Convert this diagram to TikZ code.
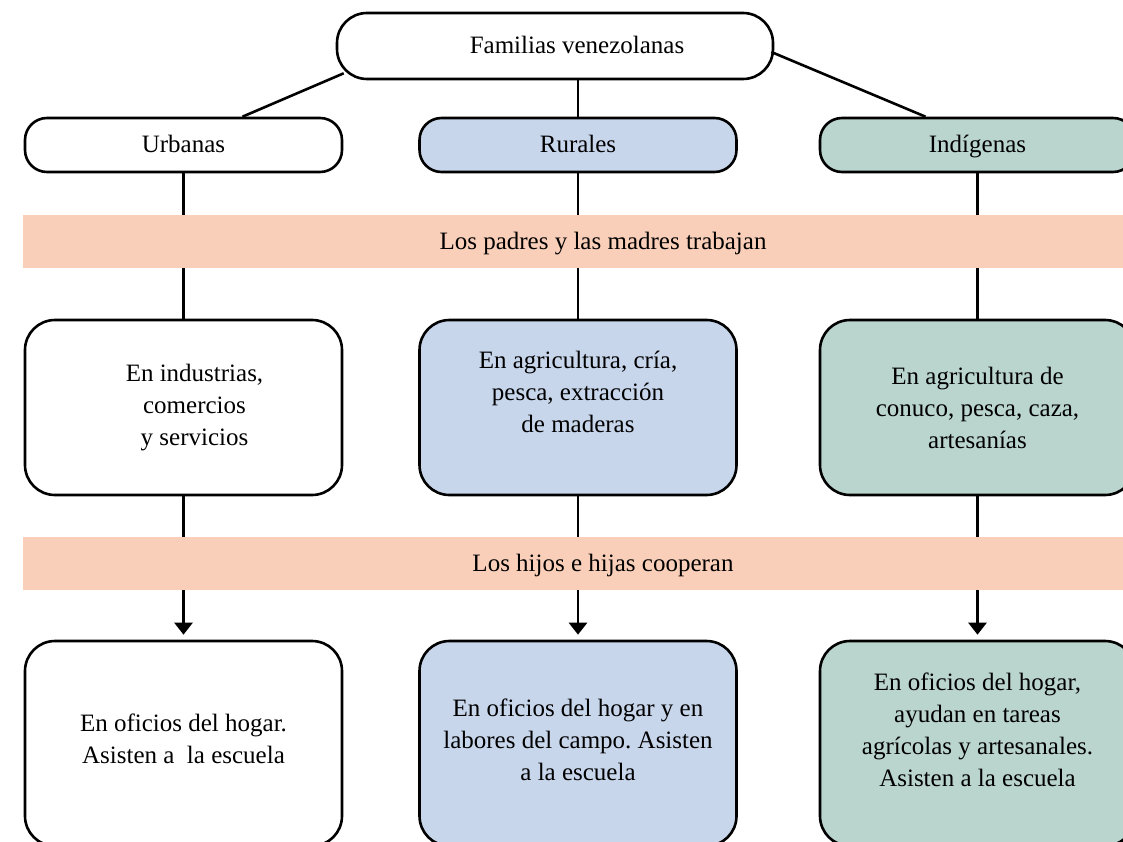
\documentclass[tikz,border=0pt]{standalone}
\usepackage{fontspec}
\setmainfont{Liberation Serif}
\usepackage{tikz}
\usetikzlibrary{arrows.meta, positioning, calc}
\definecolor{colorRural}{RGB}{200,214,236}
\definecolor{colorIndig}{RGB}{186,212,206}
\definecolor{colorBand}{RGB}{250,207,185}
\frenchspacing

\begin{document}
\begin{tikzpicture}[
            x=1pt, y=-1pt,
            box/.style={rectangle, draw=black, fill=white, line width=2.6pt, rounded corners=30pt, minimum width=317pt, minimum height=175pt, align=center, font=\fontsize{25}{32}\selectfont},
            head/.style={box, rounded corners=22pt, minimum height=54pt, text height=19pt, text depth=4pt},
            band/.style={rectangle, fill=colorBand, minimum width=1160pt, minimum height=53pt, text height=19pt, text depth=4pt, font=\fontsize{25}{32}\selectfont},
            line/.style={line width=2.6pt},
            arrow/.style={line, -{Triangle[width=18pt,length=12pt]}, shorten >=5pt}
        ]
            \useasboundingbox (0,0) rectangle (1123,842);
            \clip (0,0) rectangle (1123,842);

            \node[head, rounded corners=30pt, minimum width=436pt, minimum height=66pt] (fam) at (555,46) {\hspace*{44pt}Familias venezolanas};

            \node[head] (urb) at (183.5,145) {Urbanas};
            \node[head, fill=colorRural] (rur) at (578,145) {Rurales};
            \node[head, fill=colorIndig, minimum width=315pt] (ind) at (977.5,145) {Indígenas};

            \node[box] (murb) at (183.5,407.5) {\hspace*{22pt}En industrias,\\\hspace*{22pt}comercios\\\hspace*{22pt}y servicios};
            \node[box, fill=colorRural] (mrur) at (578,407.5) {En agricultura, cría,\\pesca, extracción\\de maderas\\[0pt]};
            \node[box, fill=colorIndig, minimum width=315pt] (mind) at (977.5,407.5) {En agricultura de\\conuco, pesca, caza,\\artesanías};

            \node[box, minimum height=205pt] (burb) at (183.5,743.5) {En oficios del hogar.\\Asisten a\ \ la escuela\\[-22pt]};
            \node[box, fill=colorRural, minimum height=205pt] (brur) at (578,743.5) {En oficios del hogar y en\\labores del campo. Asisten\\a la escuela\\[-24pt]};
            \node[box, fill=colorIndig, minimum width=315pt, minimum height=205pt] (bind) at (977.5,743.5) {En oficios del hogar,\\ayudan en tareas\\agrícolas y artesanales.\\Asisten a la escuela\\[-4pt]};

            \draw[line] ($(fam.south west)+(8,-7)$) -- ($(urb.north)+(59,0)$);
            \draw[line] (rur.north |- fam.south) -- (rur.north);
            \draw[line] ($(fam.east)+(-3,6)$) -- ($(ind.north)+(-52,0)$);

            \draw[line] (urb) -- (murb);
            \draw[line] (rur) -- (mrur);
            \draw[line] (ind) -- (mind);
            \draw[arrow] (murb) -- (burb);
            \draw[arrow] (mrur) -- (brur);
            \draw[arrow] (mind) -- (bind);

            \node[band] (trabajan) at (603,241.5) {Los padres y las madres trabajan};
            \node[band] (cooperan) at (603,563.5) {Los hijos e hijas cooperan};
        \end{tikzpicture}
\end{document}
